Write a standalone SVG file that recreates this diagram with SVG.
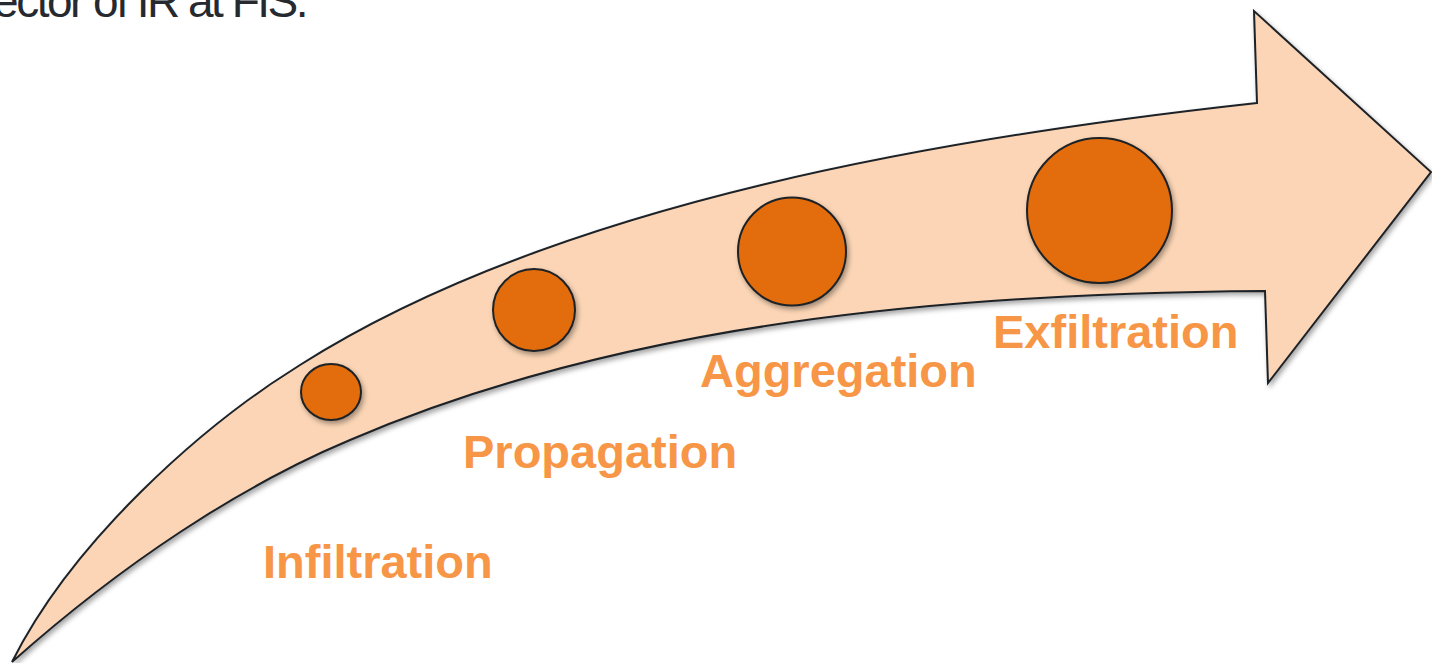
<svg xmlns="http://www.w3.org/2000/svg" width="1432" height="663" viewBox="0 0 1432 663">
<defs>
<filter id="sh" x="-10%" y="-10%" width="130%" height="130%">
<feDropShadow dx="2" dy="3" stdDeviation="2.5" flood-color="#000" flood-opacity="0.35"/>
</filter>
<style>
.stage{fill:#E36C0A;stroke:#1d2228;stroke-width:2;filter:url(#sh)}
.lbl{font-family:"Liberation Sans",Arial,sans-serif;font-weight:bold;font-size:47px;fill:#F79646}
.top{font-family:"Liberation Sans",Arial,sans-serif;font-size:46px;fill:#262a30}
</style>
</defs>
<rect width="1432" height="663" fill="#fff"/>
<text class="top" x="306" y="17" text-anchor="end" letter-spacing="-2.5">ector of IR at FIS.</text>
<g id="arrow">
<path d="M12,662 C72,542 200,427 300,365 C560,200 957,136 1257,103 L1254,11 L1431,172 L1268,383 L1265,291 C940,293 620,324 350,440 C240,486 122,564 12,662 Z" fill="#FBD5B5" stroke="#1d2228" stroke-width="2" stroke-linejoin="miter" filter="url(#sh)"/>
</g>
<g id="connectors"></g>
<g id="infiltration">
<ellipse class="stage" cx="331" cy="392" rx="30" ry="28"/>
<text class="lbl" x="263" y="578">Infiltration</text>
</g>
<g id="propagation">
<circle class="stage" cx="534" cy="310" r="41"/>
<text class="lbl" x="463" y="468">Propagation</text>
</g>
<g id="aggregation">
<circle class="stage" cx="792" cy="251.5" r="54"/>
<text class="lbl" x="700" y="387">Aggregation</text>
</g>
<g id="exfiltration">
<circle class="stage" cx="1099.5" cy="210.5" r="72.5"/>
<text class="lbl" x="993" y="348">Exfiltration</text>
</g>
</svg>
